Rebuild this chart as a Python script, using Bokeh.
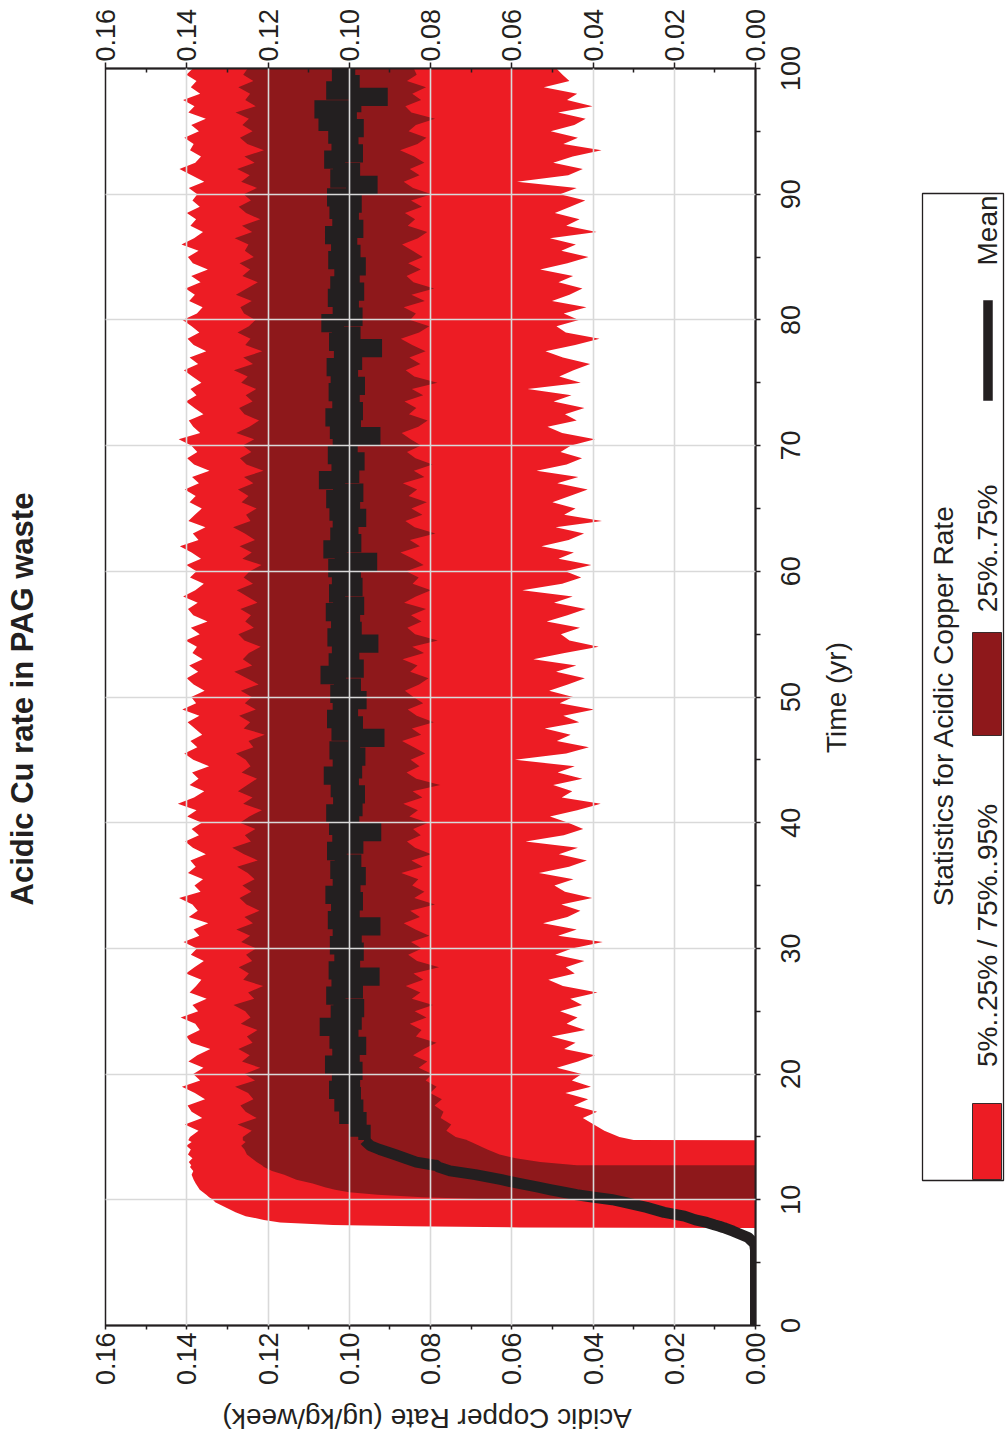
from math import pi
from bokeh.plotting import figure
from bokeh.models import (ColumnDataSource, LinearAxis, FixedTicker, PrintfTickFormatter,
                          CustomJSTickFormatter, Grid, Range1d)
from bokeh.layouts import row, column
from bokeh.core.properties import value
from bokeh.embed import file_html
from bokeh.resources import INLINE

# ---------------- data ----------------
title_text = "Acidic Cu rate in PAG waste"
x_label = "Acidic Copper Rate (ug/kg/week)"
y_label = "Time (yr)"
legend_title = "Statistics for Acidic Copper Rate"
legend_labels = ["5%..25% / 75%..95%", "25%..75%", "Mean"]

rate_ticks = [0.0, 0.02, 0.04, 0.06, 0.08, 0.10, 0.12, 0.14, 0.16]
rate_minor_ticks = [0.01, 0.03, 0.05, 0.07, 0.09, 0.11, 0.13, 0.15]
time_ticks = [0, 10, 20, 30, 40, 50, 60, 70, 80, 90, 100]
time_minor_ticks = [5, 15, 25, 35, 45, 55, 65, 75, 85, 95]

ramp_years = [0.0, 6.0, 6.5, 7.0, 7.5, 7.75, 7.8, 7.9, 8.0, 8.2, 8.4, 8.7, 9.0, 9.4, 9.8, 9.99,
              10.0, 10.2, 10.4, 10.6, 10.8, 11.0, 11.3, 11.6, 12.0, 12.3, 12.6, 12.74, 12.75,
              13.0, 13.3, 13.6, 14.0, 14.3, 14.6, 14.74, 14.75]
ramp_p5 = [0]*36 + [0.030]
ramp_p25 = [0]*28 + [0.044, 0.053, 0.059, 0.063, 0.066, 0.068, 0.070, 0.071, 0.071]
ramp_p75 = [0]*16 + [0.062, 0.082, 0.093, 0.100, 0.1035, 0.106, 0.109, 0.113, 0.116, 0.119, 0.121,
                     0.1215, 0.1215, 0.1228, 0.124, 0.1252, 0.1258, 0.1266, 0.1255, 0.1262, 0.1262]
ramp_p95 = [0]*6 + [0.058, 0.085, 0.104, 0.117, 0.121, 0.1255, 0.128, 0.1305, 0.133, 0.1335,
                    0.1335, 0.1345, 0.1352, 0.136, 0.1368, 0.1372, 0.1378, 0.1383, 0.1388, 0.1384,
                    0.1392, 0.1389, 0.1389, 0.1395, 0.1386, 0.1397, 0.1390, 0.1401, 0.1388, 0.1396, 0.1396]
ramp_mean = [0.0, 0.0, 0.0002, 0.0018, 0.0055, 0.0075, 0.0080, 0.0089, 0.0100, 0.0120, 0.0148,
             0.0175, 0.0225, 0.0268, 0.0322, 0.0350, 0.0352, 0.0398, 0.0440, 0.0472, 0.0505,
             0.0535, 0.0582, 0.0625, 0.0690, 0.0752, 0.0780, 0.0786, 0.0790, 0.0835, 0.0862,
             0.0888, 0.0925, 0.0948, 0.0958, 0.0962, 0.0963]

steady_years = [
    15.0, 15.5, 16.0, 16.5, 17.0, 17.5, 18.0, 18.5, 19.0, 19.5,
    20.0, 20.5, 21.0, 21.5, 22.0, 22.5, 23.0, 23.5, 24.0, 24.5,
    25.0, 25.5, 26.0, 26.5, 27.0, 27.5, 28.0, 28.5, 29.0, 29.5,
    30.0, 30.5, 31.0, 31.5, 32.0, 32.5, 33.0, 33.5, 34.0, 34.5,
    35.0, 35.5, 36.0, 36.5, 37.0, 37.5, 38.0, 38.5, 39.0, 39.5,
    40.0, 40.5, 41.0, 41.5, 42.0, 42.5, 43.0, 43.5, 44.0, 44.5,
    45.0, 45.5, 46.0, 46.5, 47.0, 47.5, 48.0, 48.5, 49.0, 49.5,
    50.0, 50.5, 51.0, 51.5, 52.0, 52.5, 53.0, 53.5, 54.0, 54.5,
    55.0, 55.5, 56.0, 56.5, 57.0, 57.5, 58.0, 58.5, 59.0, 59.5,
    60.0, 60.5, 61.0, 61.5, 62.0, 62.5, 63.0, 63.5, 64.0, 64.5,
    65.0, 65.5, 66.0, 66.5, 67.0, 67.5, 68.0, 68.5, 69.0, 69.5,
    70.0, 70.5, 71.0, 71.5, 72.0, 72.5, 73.0, 73.5, 74.0, 74.5,
    75.0, 75.5, 76.0, 76.5, 77.0, 77.5, 78.0, 78.5, 79.0, 79.5,
    80.0, 80.5, 81.0, 81.5, 82.0, 82.5, 83.0, 83.5, 84.0, 84.5,
    85.0, 85.5, 86.0, 86.5, 87.0, 87.5, 88.0, 88.5, 89.0, 89.5,
    90.0, 90.5, 91.0, 91.5, 92.0, 92.5, 93.0, 93.5, 94.0, 94.5,
    95.0, 95.5, 96.0, 96.5, 97.0, 97.5, 98.0, 98.5, 99.0, 99.5,
    100.0]

steady_p95 = [
    0.1392, 0.1371, 0.1405, 0.1362, 0.1388, 0.1398, 0.1355, 0.1380, 0.1412, 0.1367,
    0.1384, 0.1359, 0.1396, 0.1374, 0.1342, 0.1389, 0.1401, 0.1368, 0.1379, 0.1415,
    0.1372, 0.1386, 0.1351, 0.1393, 0.1377, 0.1364, 0.1402, 0.1381, 0.1358, 0.1390,
    0.1375, 0.1408, 0.1369, 0.1383, 0.1347, 0.1395, 0.1373, 0.1386, 0.1419, 0.1366,
    0.1381, 0.1360, 0.1397, 0.1378, 0.1391, 0.1353, 0.1385, 0.1404, 0.1370, 0.1388,
    0.1363, 0.1399, 0.1376, 0.1422, 0.1382, 0.1357, 0.1393, 0.1371, 0.1387, 0.1345,
    0.1384, 0.1406, 0.1374, 0.1391, 0.1362, 0.1380, 0.1398, 0.1369, 0.1411, 0.1377,
    0.1389, 0.1356, 0.1383, 0.1400, 0.1372, 0.1394, 0.1361, 0.1386, 0.1375, 0.1403,
    0.1368, 0.1390, 0.1349, 0.1384, 0.1397, 0.1373, 0.1409, 0.1379, 0.1358, 0.1392,
    0.1376, 0.1401, 0.1365, 0.1388, 0.1417, 0.1371, 0.1385, 0.1354, 0.1396, 0.1380,
    0.1363, 0.1393, 0.1378, 0.1405, 0.1370, 0.1387, 0.1344, 0.1382, 0.1399, 0.1374,
    0.1389, 0.1420, 0.1367, 0.1384, 0.1395, 0.1359, 0.1381, 0.1402, 0.1376, 0.1391,
    0.1364, 0.1386, 0.1407, 0.1372, 0.1393, 0.1352, 0.1383, 0.1398, 0.1369, 0.1388,
    0.1410, 0.1375, 0.1361, 0.1394, 0.1380, 0.1403, 0.1366, 0.1389, 0.1348, 0.1385,
    0.1397, 0.1371, 0.1413, 0.1382, 0.1360, 0.1391, 0.1377, 0.1400, 0.1368, 0.1386,
    0.1374, 0.1395, 0.1357, 0.1388, 0.1418, 0.1379, 0.1365, 0.1392, 0.1383, 0.1406,
    0.1370, 0.1389, 0.1353, 0.1396, 0.1381, 0.1409, 0.1367, 0.1390, 0.1376, 0.1401,
    0.1385]

steady_p75 = [
    0.1262, 0.1240, 0.1275, 0.1228, 0.1255, 0.1268, 0.1236, 0.1249, 0.1281, 0.1232,
    0.1258, 0.1219, 0.1264, 0.1245, 0.1273, 0.1238, 0.1252, 0.1226, 0.1267, 0.1243,
    0.1256, 0.1285, 0.1234, 0.1249, 0.1212, 0.1261, 0.1247, 0.1272, 0.1239, 0.1254,
    0.1229, 0.1266, 0.1244, 0.1278, 0.1237, 0.1258, 0.1221, 0.1253, 0.1270, 0.1241,
    0.1263, 0.1233, 0.1250, 0.1276, 0.1225, 0.1259, 0.1288, 0.1242, 0.1257, 0.1231,
    0.1269, 0.1246, 0.1215, 0.1261, 0.1238, 0.1274, 0.1251, 0.1227, 0.1265, 0.1243,
    0.1255, 0.1279, 0.1236, 0.1248, 0.1208, 0.1260, 0.1244, 0.1271, 0.1230, 0.1257,
    0.1240, 0.1267, 0.1223, 0.1252, 0.1283, 0.1239, 0.1262, 0.1247, 0.1218, 0.1258,
    0.1273, 0.1235, 0.1256, 0.1242, 0.1268, 0.1226, 0.1251, 0.1277, 0.1237, 0.1260,
    0.1245, 0.1216, 0.1263, 0.1240, 0.1270, 0.1232, 0.1257, 0.1286, 0.1243, 0.1254,
    0.1228, 0.1265, 0.1248, 0.1274, 0.1236, 0.1259, 0.1211, 0.1253, 0.1269, 0.1241,
    0.1262, 0.1234, 0.1278, 0.1246, 0.1222, 0.1258, 0.1271, 0.1238, 0.1255, 0.1229,
    0.1266, 0.1250, 0.1284, 0.1237, 0.1261, 0.1214, 0.1256, 0.1243, 0.1275, 0.1247,
    0.1231, 0.1259, 0.1268, 0.1240, 0.1279, 0.1252, 0.1225, 0.1263, 0.1244, 0.1270,
    0.1235, 0.1257, 0.1248, 0.1282, 0.1239, 0.1264, 0.1219, 0.1254, 0.1272, 0.1242,
    0.1260, 0.1227, 0.1266, 0.1245, 0.1276, 0.1233, 0.1258, 0.1210, 0.1251, 0.1269,
    0.1238, 0.1263, 0.1247, 0.1280, 0.1230, 0.1256, 0.1244, 0.1273, 0.1236, 0.1261,
    0.1250]

steady_p25 = [
    0.0738, 0.0761, 0.0749, 0.0775, 0.0768, 0.0790, 0.0772, 0.0801, 0.0785, 0.0812,
    0.0796, 0.0829, 0.0808, 0.0843, 0.0817, 0.0785, 0.0836, 0.0822, 0.0851, 0.0810,
    0.0839, 0.0794, 0.0846, 0.0825, 0.0861, 0.0818, 0.0842, 0.0779, 0.0833, 0.0855,
    0.0821, 0.0848, 0.0803, 0.0837, 0.0866, 0.0826, 0.0850, 0.0789, 0.0840, 0.0815,
    0.0845, 0.0830, 0.0872, 0.0819, 0.0847, 0.0798, 0.0838, 0.0858, 0.0824, 0.0843,
    0.0806, 0.0852, 0.0831, 0.0867, 0.0820, 0.0844, 0.0776, 0.0835, 0.0859, 0.0827,
    0.0849, 0.0813, 0.0841, 0.0870, 0.0823, 0.0846, 0.0792, 0.0834, 0.0856, 0.0818,
    0.0842, 0.0863, 0.0828, 0.0805, 0.0850, 0.0832, 0.0869, 0.0816, 0.0845, 0.0782,
    0.0838, 0.0857, 0.0822, 0.0848, 0.0811, 0.0865, 0.0836, 0.0799, 0.0844, 0.0829,
    0.0860, 0.0817, 0.0843, 0.0874, 0.0826, 0.0851, 0.0788, 0.0839, 0.0862, 0.0820,
    0.0847, 0.0809, 0.0854, 0.0833, 0.0868, 0.0815, 0.0841, 0.0795, 0.0837, 0.0858,
    0.0823, 0.0849, 0.0871, 0.0830, 0.0807, 0.0853, 0.0835, 0.0864, 0.0818, 0.0846,
    0.0783, 0.0840, 0.0861, 0.0825, 0.0852, 0.0812, 0.0845, 0.0873, 0.0828, 0.0803,
    0.0850, 0.0836, 0.0866, 0.0814, 0.0847, 0.0791, 0.0842, 0.0859, 0.0824, 0.0855,
    0.0819, 0.0844, 0.0870, 0.0831, 0.0808, 0.0856, 0.0838, 0.0863, 0.0821, 0.0848,
    0.0797, 0.0843, 0.0866, 0.0827, 0.0851, 0.0815, 0.0840, 0.0875, 0.0832, 0.0810,
    0.0854, 0.0836, 0.0789, 0.0847, 0.0862, 0.0823, 0.0845, 0.0811, 0.0858, 0.0834,
    0.0841]

steady_p5 = [
    0.0335, 0.0372, 0.0398, 0.0425, 0.0390, 0.0447, 0.0412, 0.0468, 0.0405, 0.0452,
    0.0428, 0.0489, 0.0437, 0.0395, 0.0471, 0.0443, 0.0502, 0.0419, 0.0465, 0.0438,
    0.0481, 0.0427, 0.0456, 0.0389, 0.0474, 0.0510, 0.0445, 0.0467, 0.0421, 0.0493,
    0.0452, 0.0376, 0.0486, 0.0440, 0.0523, 0.0463, 0.0431, 0.0478, 0.0402, 0.0469,
    0.0495, 0.0448, 0.0533, 0.0459, 0.0415, 0.0484, 0.0437, 0.0566, 0.0472, 0.0424,
    0.0461, 0.0506, 0.0439, 0.0381, 0.0477, 0.0451, 0.0498, 0.0426, 0.0487, 0.0445,
    0.0592, 0.0466, 0.0410, 0.0489, 0.0455, 0.0519, 0.0434, 0.0473, 0.0397, 0.0482,
    0.0449, 0.0508, 0.0462, 0.0420, 0.0491, 0.0441, 0.0547, 0.0470, 0.0386, 0.0458,
    0.0479, 0.0432, 0.0514, 0.0463, 0.0418, 0.0496, 0.0450, 0.0574, 0.0476, 0.0429,
    0.0468, 0.0404, 0.0485, 0.0447, 0.0527, 0.0460, 0.0422, 0.0492, 0.0378, 0.0471,
    0.0443, 0.0500, 0.0457, 0.0413, 0.0488, 0.0436, 0.0539, 0.0465, 0.0427, 0.0480,
    0.0454, 0.0395, 0.0476, 0.0512, 0.0440, 0.0469, 0.0421, 0.0497, 0.0453, 0.0561,
    0.0430, 0.0483, 0.0448, 0.0407, 0.0474, 0.0517, 0.0444, 0.0384, 0.0467, 0.0490,
    0.0435, 0.0472, 0.0416, 0.0501, 0.0458, 0.0426, 0.0485, 0.0449, 0.0530, 0.0463,
    0.0411, 0.0478, 0.0442, 0.0506, 0.0391, 0.0466, 0.0433, 0.0494, 0.0456, 0.0419,
    0.0481, 0.0440, 0.0587, 0.0461, 0.0425, 0.0498, 0.0450, 0.0379, 0.0473, 0.0437,
    0.0504, 0.0446, 0.0418, 0.0486, 0.0401, 0.0464, 0.0439, 0.0521, 0.0458, 0.0475,
    0.0490]

steady_mean = [
    0.0962, 0.0985, 0.0972, 0.1010, 0.0980, 0.1022, 0.0986, 0.1035, 0.0988, 0.1028,
    0.0982, 0.1045, 0.0989, 0.1027, 0.0973, 0.1034, 0.0992, 0.1058, 0.0984, 0.1031,
    0.0978, 0.1024, 0.1042, 0.0981, 0.1029, 0.0940, 0.1036, 0.0988, 0.1022, 0.0979,
    0.1033, 0.0984, 0.1026, 0.0938, 0.1038, 0.0989, 0.1030, 0.0981, 0.1044, 0.0987,
    0.1026, 0.0974, 0.1032, 0.0985, 0.1021, 0.1040, 0.0980, 0.1027, 0.0936, 0.1035,
    0.0990, 0.1042, 0.0982, 0.1025, 0.0976, 0.1031, 0.0991, 0.1048, 0.0983, 0.1026,
    0.0975, 0.1034, 0.0988, 0.0928, 0.1029, 0.0981, 0.1040, 0.0993, 0.1026, 0.0972,
    0.1032, 0.0986, 0.1023, 0.1056, 0.0979, 0.1036, 0.0990, 0.1028, 0.0943, 0.1039,
    0.0984, 0.1030, 0.0988, 0.1043, 0.0978, 0.1025, 0.1035, 0.0982, 0.1028, 0.0986,
    0.1037, 0.0946, 0.1021, 0.1049, 0.0985, 0.1032, 0.0992, 0.1026, 0.0973, 0.1034,
    0.0988, 0.1042, 0.0980, 0.1025, 0.1060, 0.0990, 0.1029, 0.0977, 0.1038, 0.0994,
    0.1026, 0.0938, 0.1033, 0.0986, 0.1044, 0.0981, 0.1027, 0.0989, 0.1036, 0.0976,
    0.1031, 0.0993, 0.1041, 0.0983, 0.1023, 0.0934, 0.1035, 0.0987, 0.1028, 0.1054,
    0.0982, 0.1026, 0.0991, 0.1038, 0.0978, 0.1032, 0.0989, 0.1022, 0.0974, 0.1037,
    0.0987, 0.1030, 0.0995, 0.1045, 0.0980, 0.1027, 0.0991, 0.1034, 0.0984, 0.1040,
    0.0993, 0.0945, 0.1032, 0.0988, 0.1025, 0.1047, 0.0981, 0.1029, 0.0992, 0.1037,
    0.0979, 0.1061, 0.0996, 0.1071, 0.0985, 0.0920, 0.1042, 0.0989, 0.1028, 0.1000,
    0.1003]

# ---------------- styling / layout constants ----------------
RED = "#ED1C24"
DARK_RED = "#8E181B"
INK = "#231F20"
GRID = "#D9D9D9"
FONT = "Liberation Sans"

PAGE_H = 1442
FRAME_TOP = 68
FRAME_BOTTOM = 1325
PX_PER_YEAR = (FRAME_BOTTOM - FRAME_TOP) / 100.0

bands = ColumnDataSource(dict(
    t=ramp_years + steady_years,
    p5=ramp_p5 + steady_p5,
    p25=ramp_p25 + steady_p25,
    p75=ramp_p75 + steady_p75,
    p95=ramp_p95 + steady_p95,
))
mean_ramp = ColumnDataSource(dict(t=ramp_years, mean=ramp_mean))
mean_steady = ColumnDataSource(dict(t=ramp_years[-1:] + steady_years,
                                    mean=ramp_mean[-1:] + steady_mean))

# ---------------- main plot ----------------
p = figure(width=683, height=1395,
           x_range=Range1d(0.16, 0.0), y_range=Range1d(0, 100),
           x_axis_type=None, y_axis_type=None,
           output_backend="svg", toolbar_location=None,
           min_border_left=16, min_border_right=17,
           min_border_top=FRAME_TOP, min_border_bottom=1395 - FRAME_BOTTOM,
           outline_line_color=INK, outline_line_width=1.5,
           background_fill_color="white", border_fill_color="white")

p.harea(x1="p5", x2="p95", y="t", source=bands, fill_color=RED)
p.harea(x1="p25", x2="p75", y="t", source=bands, fill_color=DARK_RED)
p.line(x="mean", y="t", source=mean_ramp, line_color=INK, line_width=11,
       line_join="round")
p.step(x="mean", y="t", source=mean_steady, mode="before", line_color=INK,
       line_width=12, line_join="miter")

# grids on top of the data, as in the original
p.add_layout(Grid(dimension=0, ticker=FixedTicker(ticks=rate_ticks[1:-1]),
                  grid_line_color=GRID, grid_line_width=1.6, level="overlay"))
p.add_layout(Grid(dimension=1, ticker=FixedTicker(ticks=time_ticks[1:-1]),
                  grid_line_color=GRID, grid_line_width=1.6, level="overlay"))


def rate_axis(major_out, minor_in, minor_out, standoff):
    return LinearAxis(
        ticker=FixedTicker(ticks=rate_ticks, minor_ticks=rate_minor_ticks),
        formatter=PrintfTickFormatter(format="%.2f"),
        major_label_orientation=pi / 2,
        major_label_text_font=FONT, major_label_text_font_size="27px",
        major_label_text_color=INK, major_label_standoff=standoff,
        axis_line_color=INK, axis_line_width=2,
        major_tick_line_color=INK, minor_tick_line_color=INK,
        major_tick_line_width=1.5, minor_tick_line_width=1.5,
        major_tick_in=0, major_tick_out=major_out,
        minor_tick_in=minor_in, minor_tick_out=minor_out)


p.add_layout(rate_axis(4, 0, 4, 3), "below")
p.add_layout(rate_axis(6, 4, 0, 1), "above")

time_axis = LinearAxis(
    ticker=FixedTicker(ticks=time_ticks, minor_ticks=time_minor_ticks),
    formatter=CustomJSTickFormatter(code="return ''"),
    major_label_text_font_size="8px",
    axis_line_color=INK, axis_line_width=2,
    major_tick_line_color=INK, minor_tick_line_color=INK,
    major_tick_line_width=1.5, minor_tick_line_width=1.5,
    major_tick_in=0, major_tick_out=5, minor_tick_in=0, minor_tick_out=5)
p.add_layout(time_axis, "right")


# ---------------- side panels (page-pixel coordinates) ----------------
def panel(width, height, xr, yr, **kw):
    return figure(width=width, height=height, x_range=xr, y_range=yr,
                  x_axis_type=None, y_axis_type=None, output_backend="svg",
                  toolbar_location=None, outline_line_color=None, min_border=0,
                  background_fill_color="white", border_fill_color="white", **kw)


# title panel on the left (anchored at the start of the text)
left = panel(89, PAGE_H, Range1d(0, 89), Range1d(PAGE_H, 0))
left.text(x=[22], y=[905], text=[title_text], angle=pi / 2,
          text_align="left", text_baseline="middle",
          text_font=value(FONT), text_font_size=value("31px"),
          text_font_style="bold", text_color=INK)

# upside-down rate-axis title below the main plot
bottom = panel(683, PAGE_H - 1395, Range1d(89, 772), Range1d(PAGE_H, 1395))
bottom.text(x=[427], y=[1418], text=[x_label], angle=pi,
            text_align="center", text_baseline="middle",
            text_font=value(FONT), text_font_size=value("28px"), text_color=INK)

# right panel: time tick labels, time title and the legend
right = panel(234, PAGE_H, Range1d(772, 1006),
              Range1d(-(PAGE_H - FRAME_BOTTOM) / PX_PER_YEAR, 100 + FRAME_TOP / PX_PER_YEAR),
              extra_y_ranges={"px": Range1d(PAGE_H, 0)})
right.text(x=[790] * len(time_ticks), y=time_ticks, text=[str(v) for v in time_ticks],
           angle=pi / 2, text_align="center", text_baseline="middle",
           text_font=value(FONT), text_font_size=value("27px"), text_color=INK)
right.text(x=[836], y=[697], text=[y_label], angle=pi / 2, y_range_name="px",
           text_align="center", text_baseline="middle",
           text_font=value(FONT), text_font_size=value("28px"), text_color=INK)

right.quad(left=[922], right=[1003], top=[193], bottom=[1180], y_range_name="px",
           fill_color="white", line_color=INK, line_width=1.3)
right.quad(left=[972], right=[1001], top=[1103], bottom=[1179], y_range_name="px",
           fill_color=RED, line_color="#3a2a2a", line_width=1)
right.quad(left=[972], right=[1001], top=[632], bottom=[735], y_range_name="px",
           fill_color=DARK_RED, line_color="#3a2a2a", line_width=1)
right.quad(left=[983], right=[992], top=[300], bottom=[400], y_range_name="px",
           fill_color=INK, line_color=INK, line_width=0.5)
right.text(x=[943], y=[705], text=[legend_title], angle=pi / 2, y_range_name="px",
           text_align="center", text_baseline="middle",
           text_font=value(FONT), text_font_size=value("28px"), text_color=INK)
right.text(x=[987, 987, 987], y=[935, 548, 230], text=legend_labels, angle=pi / 2,
           y_range_name="px", text_align="center", text_baseline="middle",
           text_font=value(FONT), text_font_size=value("28px"), text_color=INK)

layout = row(left, column(p, bottom), right)

open("out.html", "w").write(file_html(layout, INLINE))
